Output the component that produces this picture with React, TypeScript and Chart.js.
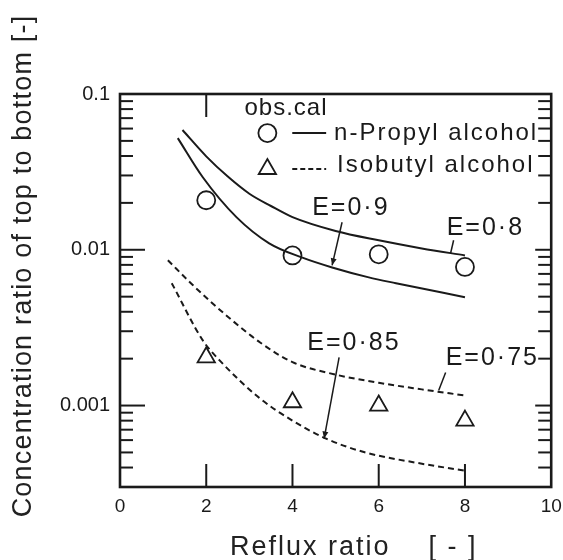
import React, { useEffect, useRef } from 'react';
import { Chart, registerables } from 'chart.js';

Chart.register(...registerables);

// ---------- data ----------
const xTickValues = [0, 2, 4, 6, 8, 10];
const xTickLabels = ['0', '2', '4', '6', '8', '10'];
const yTickValues = [0.001, 0.01, 0.1];
const yTickLabels = ['0.001', '0.01', '0.1'];
const yMinorTicks = [
  0.0004, 0.0005, 0.0006, 0.0007, 0.0008, 0.0009,
  0.002, 0.003, 0.004, 0.005, 0.006, 0.007, 0.008, 0.009,
  0.02, 0.03, 0.04, 0.05, 0.06, 0.07, 0.08, 0.09,
];
const bottomInnerTicks = [2, 4, 6, 8];
const topInnerTicks = [2];

const refluxObs = [2, 4, 6, 8];
const propylObs = [0.0208, 0.0092, 0.00935, 0.00776];
const isobutylObs = [0.00204, 0.00105, 0.001, 0.0008];

const propylE08X = [1.45, 2.0, 2.5, 3.0, 3.5, 4.0, 5.0, 6.0, 7.0, 8.0];
const propylE08Y = [0.0587, 0.0398, 0.0295, 0.0229, 0.0191, 0.0162, 0.0132, 0.0115, 0.0102, 0.0092];

const propylE09X = [1.34, 1.92, 2.7, 3.46, 4.23, 4.92, 5.77, 6.4, 8.0];
const propylE09Y = [0.0521, 0.0292, 0.0162, 0.011, 0.0089, 0.0077, 0.00665, 0.0061, 0.00496];

const isobutylE075X = [1.11, 1.7, 2.5, 3.25, 4.0, 5.0, 6.0, 7.0, 8.0];
const isobutylE075Y = [0.00857, 0.00589, 0.00372, 0.00254, 0.0019, 0.00158, 0.0014, 0.00127, 0.00116];

const isobutylE085X = [1.2, 1.92, 2.31, 3.23, 4.0, 4.78, 5.7, 6.86, 7.99];
const isobutylE085Y = [0.0061, 0.00262, 0.00195, 0.00112, 0.0008, 0.000613, 0.000499, 0.00043, 0.000382];

const xTitle = 'Reflux ratio    [ - ]';
const yTitle = 'Concentration ratio of top to bottom [-]';
const legendHeader = 'obs.cal';
const legendNames = ['n-Propyl alcohol', 'Isobutyl alcohol'];
const eLabels = ['E=0·9', 'E=0·8', 'E=0·85', 'E=0·75'];

// ---------- helpers ----------
const INK = '#1a1a1a';
const zip = (xs: number[], ys: number[]) => xs.map((x, i) => ({ x, y: ys[i] }));

// annotation anchors, in data coordinates
const legendAnchor = {
  headerX: 2.887, headerY: 0.0733,
  markerX: 3.418, lineX0: 3.995, lineX1: 4.781, textX: [4.965, 5.035],
  rowMarkerY: [0.0561, 0.033], rowTextY: [0.0506, 0.0315],
};
const eAnnot = [
  { tx: 4.457, ty: 0.01667, fx: 5.15, fy: 0.01503, toX: 4.919, toY: 0.00795, arrow: true },
  { tx: 7.575, ty: 0.01239, fx: 7.737, fy: 0.01151, toX: 7.667, toY: 0.0095, arrow: false },
  { tx: 4.342, ty: 0.00226, fx: 5.081, fy: 0.002037, toX: 4.734, toY: 0.000614, arrow: true },
  { tx: 7.552, ty: 0.001808, fx: 7.552, fy: 0.00163, toX: 7.39, toY: 0.001249, arrow: false },
];

const FONT = '"Liberation Sans", Arial, Helvetica, sans-serif';

const framePlugin = {
  id: 'frameAndNotes',
  afterDatasetsDraw(chart: any) {
    const { ctx, chartArea: a, scales } = chart;
    const X = (v: number) => scales.x.getPixelForValue(v);
    const Y = (v: number) => scales.y.getPixelForValue(v);
    const seg = (x0: number, y0: number, x1: number, y1: number) => {
      ctx.beginPath();
      ctx.moveTo(x0, y0);
      ctx.lineTo(x1, y1);
      ctx.stroke();
    };
    ctx.save();
    ctx.strokeStyle = INK;
    ctx.fillStyle = INK;
    ctx.lineCap = 'butt';

    // frame
    ctx.lineWidth = 2.6;
    ctx.strokeRect(a.left, a.top, a.right - a.left, a.bottom - a.top);

    // ticks
    ctx.lineWidth = 2;
    yMinorTicks.forEach((v) => {
      seg(a.left, Y(v), a.left + 13, Y(v));
      seg(a.right, Y(v), a.right - 13, Y(v));
    });
    yTickValues.forEach((v) => {
      seg(a.left, Y(v), a.left + 25, Y(v));
      seg(a.right, Y(v), a.right - 16, Y(v));
    });
    bottomInnerTicks.forEach((v) => seg(X(v), a.bottom, X(v), a.bottom - 23));
    topInnerTicks.forEach((v) => seg(X(v), a.top, X(v), a.top + 23));

    // legend
    ctx.textAlign = 'left';
    ctx.textBaseline = 'alphabetic';
    ctx.font = `24px ${FONT}`;
    (ctx as any).letterSpacing = '1px';
    ctx.fillText(legendHeader, X(legendAnchor.headerX), Y(legendAnchor.headerY));
    (ctx as any).letterSpacing = '2px';
    legendNames.forEach((name, i) => {
      const my = Y(legendAnchor.rowMarkerY[i]);
      const mx = X(legendAnchor.markerX);
      ctx.lineWidth = 1.8;
      ctx.beginPath();
      if (i === 0) {
        ctx.arc(mx, my, 9, 0, Math.PI * 2);
      } else {
        const r = 10;
        ctx.moveTo(mx, my - r);
        ctx.lineTo(mx + r * Math.sin((2 * Math.PI) / 3), my + r / 2);
        ctx.lineTo(mx - r * Math.sin((2 * Math.PI) / 3), my + r / 2);
        ctx.closePath();
      }
      ctx.stroke();
      ctx.lineWidth = 2;
      ctx.setLineDash(i === 0 ? [] : [5, 3]);
      seg(X(legendAnchor.lineX0), my, X(legendAnchor.lineX1), my);
      ctx.setLineDash([]);
      ctx.fillText(name, X(legendAnchor.textX[i]), Y(legendAnchor.rowTextY[i]));
    });

    // E annotations
    ctx.font = `25px ${FONT}`;
    (ctx as any).letterSpacing = '2px';
    eAnnot.forEach((e, i) => {
      ctx.fillText(eLabels[i], X(e.tx), Y(e.ty));
      const x0 = X(e.fx), y0 = Y(e.fy), x1 = X(e.toX), y1 = Y(e.toY);
      ctx.lineWidth = 1.5;
      seg(x0, y0, x1, y1);
      if (e.arrow) {
        const ang = Math.atan2(y1 - y0, x1 - x0);
        const L = 7, W = 3;
        ctx.beginPath();
        ctx.moveTo(x1, y1);
        ctx.lineTo(x1 - L * Math.cos(ang) + W * Math.sin(ang), y1 - L * Math.sin(ang) - W * Math.cos(ang));
        ctx.lineTo(x1 - L * Math.cos(ang) - W * Math.sin(ang), y1 - L * Math.sin(ang) + W * Math.cos(ang));
        ctx.closePath();
        ctx.fill();
      }
    });

    // axis titles
    ctx.font = `27px ${FONT}`;
    ctx.fillStyle = '#222';
    (ctx as any).letterSpacing = '2px';
    ctx.textAlign = 'left';
    ctx.fillText(xTitle, 230, 555);
    ctx.save();
    (ctx as any).letterSpacing = '1.2px';
    ctx.translate(31, 266);
    ctx.rotate(-Math.PI / 2);
    ctx.textAlign = 'center';
    ctx.fillText(yTitle, 0, 0);
    ctx.restore();

    ctx.restore();
  },
};

export default function App() {
  const ref = useRef<HTMLCanvasElement | null>(null);

  useEffect(() => {
    if (!ref.current) return;
    const curve = (xs: number[], ys: number[], dashed: boolean) => ({
      data: zip(xs, ys),
      borderColor: INK,
      borderWidth: 2,
      borderDash: dashed ? [6, 4] : [],
      pointRadius: 0,
      fill: false,
      showLine: true,
      cubicInterpolationMode: 'monotone' as const,
    });
    const chart = new Chart(ref.current, {
      type: 'line',
      data: {
        datasets: [
          { label: 'n-Propyl E=0.8', ...curve(propylE08X, propylE08Y, false) },
          { label: 'n-Propyl E=0.9', ...curve(propylE09X, propylE09Y, false) },
          { label: 'Isobutyl E=0.75', ...curve(isobutylE075X, isobutylE075Y, true) },
          { label: 'Isobutyl E=0.85', ...curve(isobutylE085X, isobutylE085Y, true) },
          {
            label: 'n-Propyl obs',
            data: zip(refluxObs, propylObs),
            showLine: false,
            pointStyle: 'circle',
            pointRadius: 9,
            pointBorderWidth: 1.8,
            pointBorderColor: INK,
            pointBackgroundColor: 'rgba(255,255,255,0)',
            borderColor: INK,
          },
          {
            label: 'Isobutyl obs',
            data: zip(refluxObs, isobutylObs),
            showLine: false,
            pointStyle: 'triangle',
            pointRadius: 10,
            pointBorderWidth: 1.8,
            pointBorderColor: INK,
            pointBackgroundColor: 'rgba(255,255,255,0)',
            borderColor: INK,
          },
        ],
      },
      options: {
        animation: false,
        responsive: false,
        maintainAspectRatio: false,
        devicePixelRatio: 1,
        layout: { padding: { left: 0, top: 94, right: 8, bottom: 0 } },
        plugins: { legend: { display: false }, tooltip: { enabled: false } },
        scales: {
          x: {
            type: 'linear',
            min: 0,
            max: 10,
            grid: { display: false, drawTicks: false },
            border: { display: false },
            afterBuildTicks: (s: any) => {
              s.ticks = xTickValues.map((value) => ({ value }));
            },
            afterFit: (s: any) => {
              s.height = 73;
              s.paddingLeft = 0;
              s.paddingRight = 0;
            },
            ticks: {
              autoSkip: false,
              maxRotation: 0,
              padding: 8,
              color: '#1a1a1a',
              font: { family: FONT, size: 19 },
              callback: (_v: any, i: number) => xTickLabels[i],
            },
          },
          y: {
            type: 'logarithmic',
            min: 0.0003,
            max: 0.1,
            grid: { display: false, drawTicks: false },
            border: { display: false },
            afterBuildTicks: (s: any) => {
              s.ticks = yTickValues.map((value) => ({ value }));
            },
            afterFit: (s: any) => {
              s.width = 120;
            },
            ticks: {
              autoSkip: false,
              padding: 10,
              color: '#1a1a1a',
              font: { family: FONT, size: 20 },
              callback: (_v: any, i: number) => yTickLabels[i],
            },
          },
        },
      },
      plugins: [framePlugin],
    } as any);
    return () => chart.destroy();
  }, []);

  return (
    <div style={{ position: 'absolute', left: 0, top: 0, width: 563, height: 560, background: '#fff' }}>
      <canvas ref={ref} width={563} height={560} style={{ width: 563, height: 560, display: 'block' }} />
    </div>
  );
}
